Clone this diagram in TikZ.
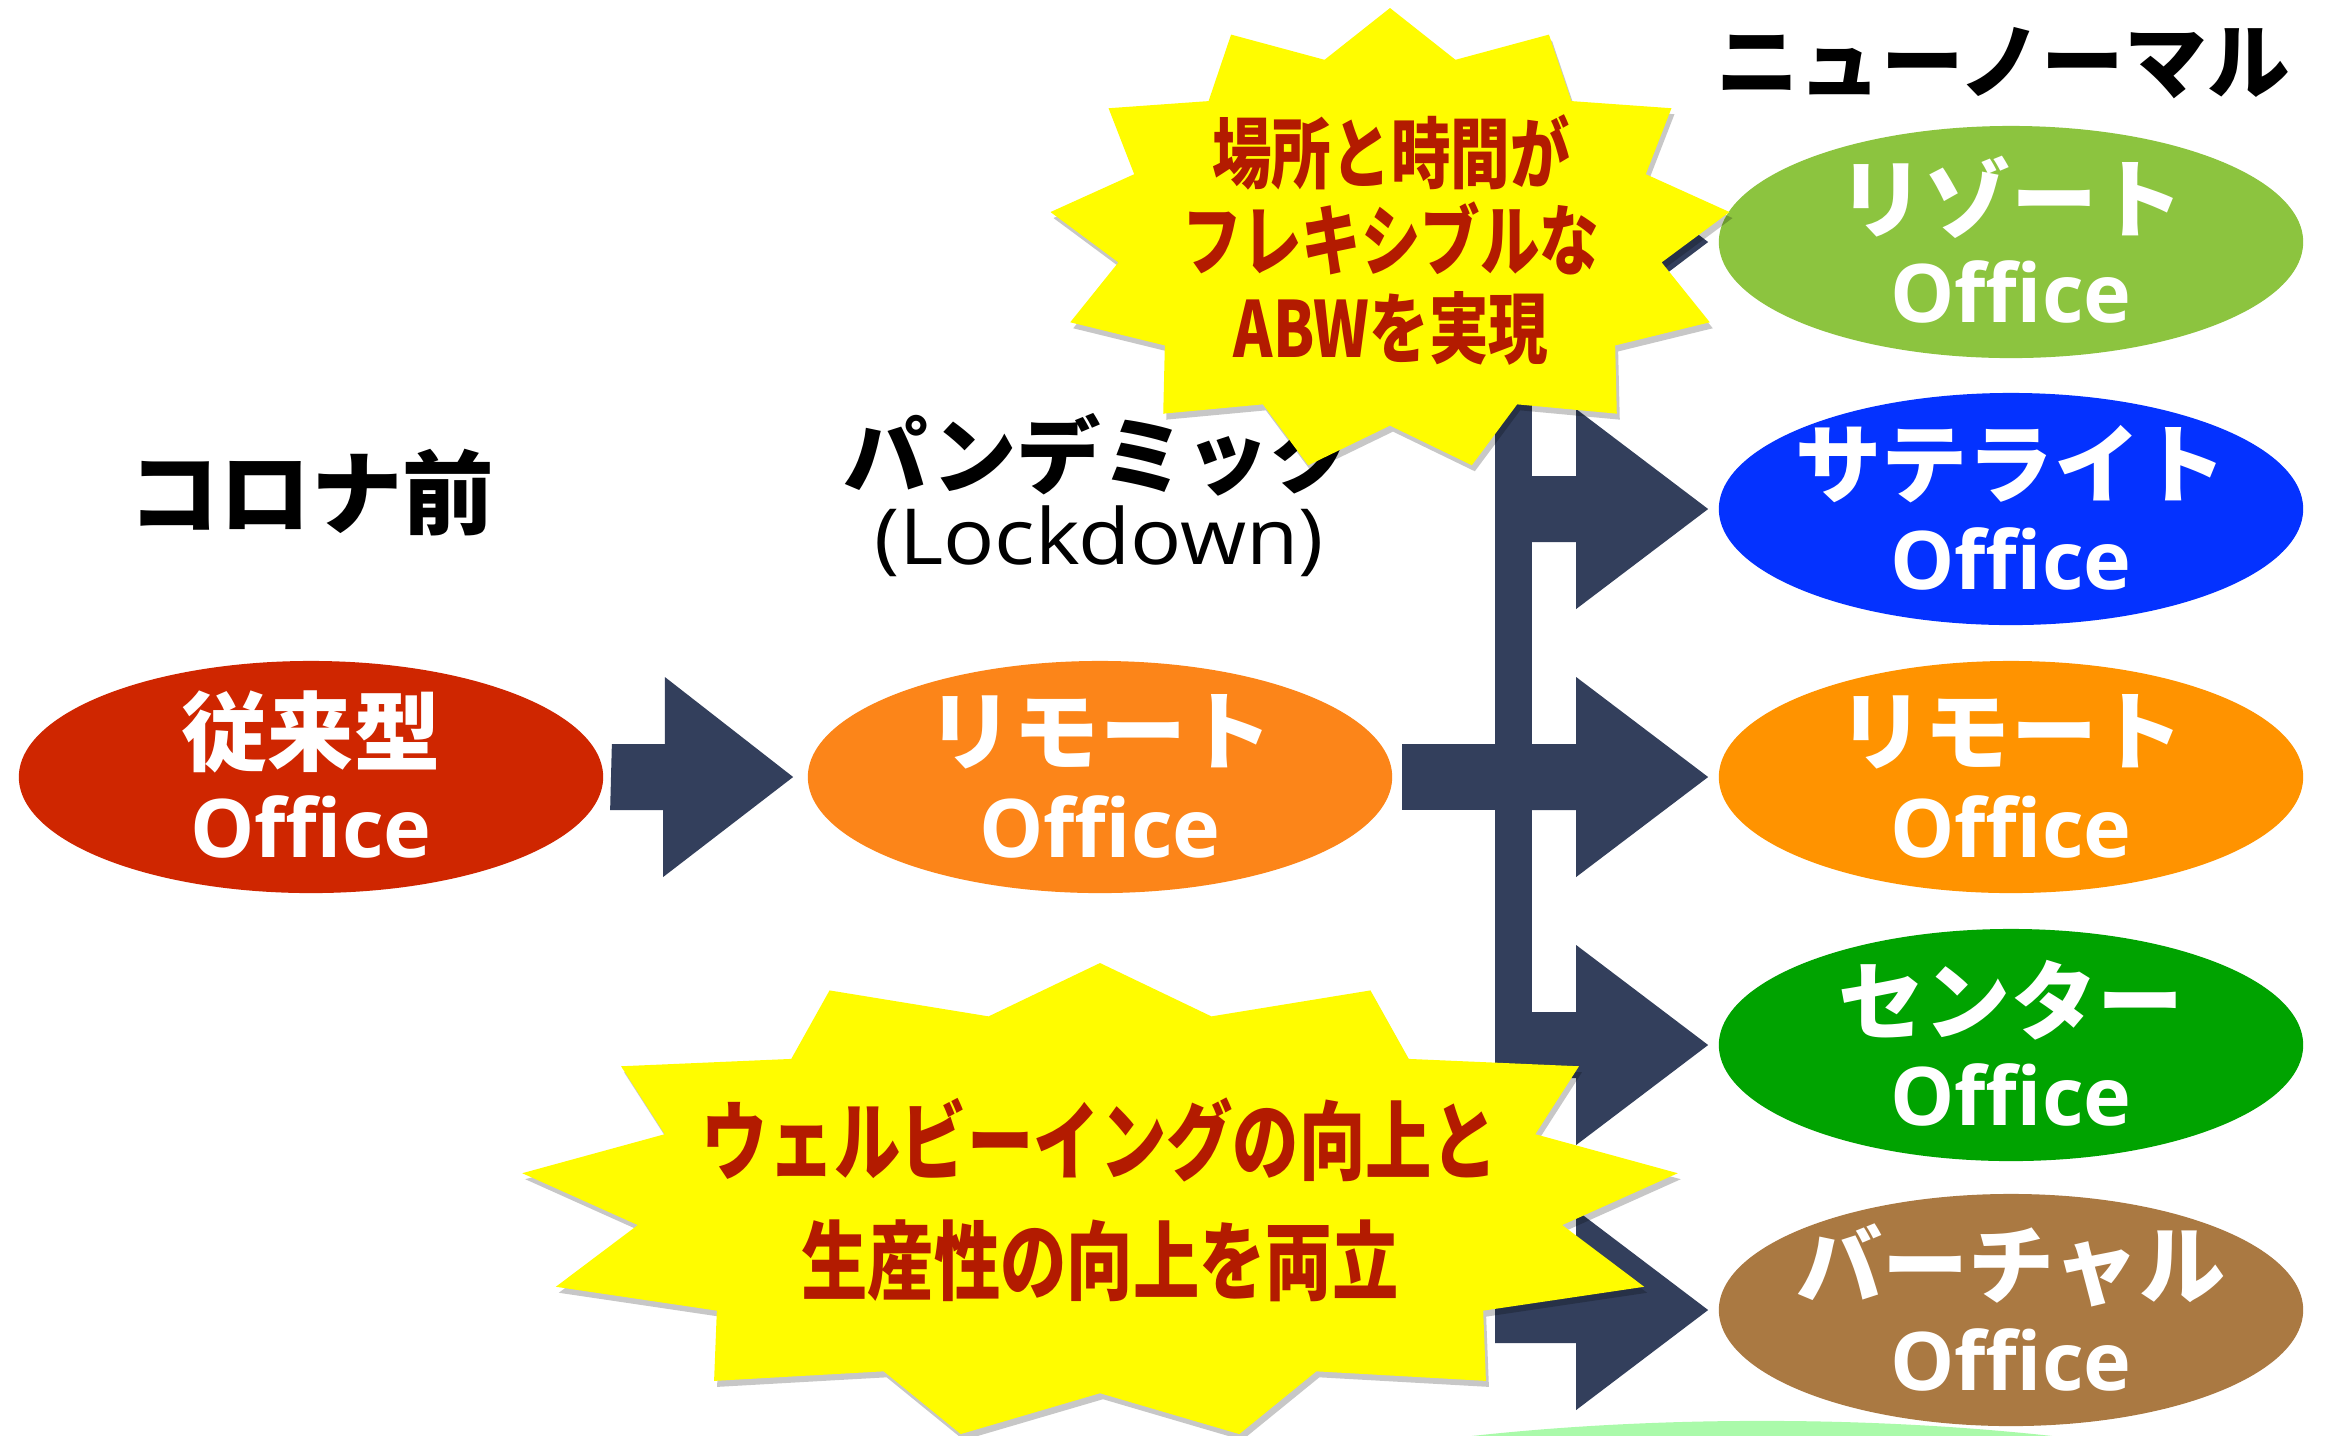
\documentclass[tikz,border=0pt]{standalone}
\usepackage{fontspec}
\usetikzlibrary{shapes.geometric,calc}

\newfontfamily\jpheavy{Noto Sans CJK JP Black}
\newfontfamily\jpstar{Noto Sans CJK JP Black}[FakeStretch=0.77]
\newfontfamily\opensans{Open Sans}
\newfontfamily\lockfont{Open Sans}[FakeStretch=1.1]

\definecolor{arrowblue}{HTML}{333F5C}
\definecolor{burst}{HTML}{FFFC00}
\definecolor{burstred}{HTML}{B31B00}
\definecolor{oldred}{HTML}{CF2600}
\definecolor{rmtorange}{HTML}{FC8519}
\definecolor{resortgreen}{HTML}{8CC43F}
\definecolor{satblue}{HTML}{0432FF}
\definecolor{rmtneworange}{HTML}{FF9300}
\definecolor{ctrgreen}{HTML}{00A300}
\definecolor{virtbrown}{HTML}{AA7942}
\definecolor{paleg}{HTML}{AAFAAA}

\tikzset{
  officebox/.style={ellipse, minimum width=5.84cm, minimum height=2.32cm, inner sep=0},
  jplabel/.style={text=white, inner sep=0, font=\jpheavy\fontsize{24.5}{28}\selectfont},
  oflabel/.style={text=white, inner sep=0, font=\opensans\bfseries\fontsize{23}{27}\selectfont},
  heading/.style={inner sep=0, font=\jpheavy\fontsize{24}{28}\selectfont},
  burstshade/.style={fill=black, opacity=0.22},
  bursttxt/.style={text=burstred, align=center, inner sep=0},
}

% 13-point burst: centre x, centre y, x radius, y radius, style
\newcommand{\starburst}[5]{%
  \fill[#5, shift={(#1,#2)}] (0,-#4)
    \foreach \k [evaluate=\k as \rr using {(mod(\k,2)==1 ? 0.8 : 1)}] in {1,...,25}
    { -- ({\rr*#3*cos(-90+\k*180/13)}, {\rr*#4*sin(-90+\k*180/13)}) } -- cycle;}

\begin{document}
\begin{tikzpicture}[x=0.01cm, y=-0.01cm]
    \path[use as bounding box, clip] (0,0) rectangle (2342,1435);
    \fill[white] (0,0) rectangle (2342,1435);
    \fill[paleg] (1762,1621) ellipse [x radius=7.6cm, y radius=2cm];

    % offices
    \foreach \n/\x/\y/\c/\t in {conv/311/777/oldred/従来型, rmt/1100/777/rmtorange/リモート,
        resort/2011/242/resortgreen/リゾート, sat/2011/509/satblue/サテライト,
        rmtnew/2011/777/rmtneworange/リモート, ctr/2011/1045/ctrgreen/センター,
        virt/2011/1310/virtbrown/バーチャル}{
      \node[officebox, fill=\c] (\n) at (\x,\y) {};
      \node[jplabel] at ($(\n)+(0,-45)$) {\t};
      \node[oflabel] at ($(\n)+(0,50)$) {Office};
    }

    % arrows
    \fill[arrowblue] ($(conv.east)+(8,-33)$) -- ++(53,0) -- ++(0,-67) -- ($(rmt.west)+(-14,0)$)
      -- ++(-130,100) -- ++(0,-67) -- ++(-53,0) -- cycle;
    \fill[arrowblue] ($(rmt.east)+(9,-33)$) rectangle ($(rmt.east)+(110,33)$);
    \fill[arrowblue] ($(resort.west)+(-223,-33)$) rectangle ($(virt.west)+(-186,33)$);
    \foreach \n in {resort,sat,rmtnew,ctr,virt}
      \fill[arrowblue] ($(\n.west)+(-223,-33)$) -- ++(81,0) -- ++(0,-67) -- ($(\n.west)+(-10,0)$)
        -- ++(-132,100) -- ++(0,-67) -- ++(-81,0) -- cycle;

    % phases
    \node[heading, font=\jpheavy\fontsize{26}{30}\selectfont] (before) at (311,493) {コロナ前};
    \node[heading] (pandemic) at (1099,455) {パンデミック};
    \node[inner sep=0, font=\lockfont\fontsize{22}{26}\selectfont] (lockdown) at (1099,541) {(Lockdown)};
    \node[heading, font=\jpheavy\fontsize{23.5}{28}\selectfont] (newnormal) at (2003,63) {ニューノーマル};

    % bursts
    \starburst{1393}{246}{342}{232}{burstshade}
    \starburst{1390}{240}{342}{232}{burst}
    \node[bursttxt, font=\jpstar\fontsize{22}{25}\selectfont] (abw) at (1391,240)
      {場所と時間が\\フレキシブルな\\ABWを実現};
    \starburst{1103}{1208}{582}{239}{burstshade}
    \starburst{1100}{1202}{582}{239}{burst}
    \node[bursttxt, font=\jpstar\fontsize{24.5}{34}\selectfont] (wellbeing) at (1100,1200)
      {ウェルビーイングの向上と\\生産性の向上を両立};
\end{tikzpicture}
\end{document}
